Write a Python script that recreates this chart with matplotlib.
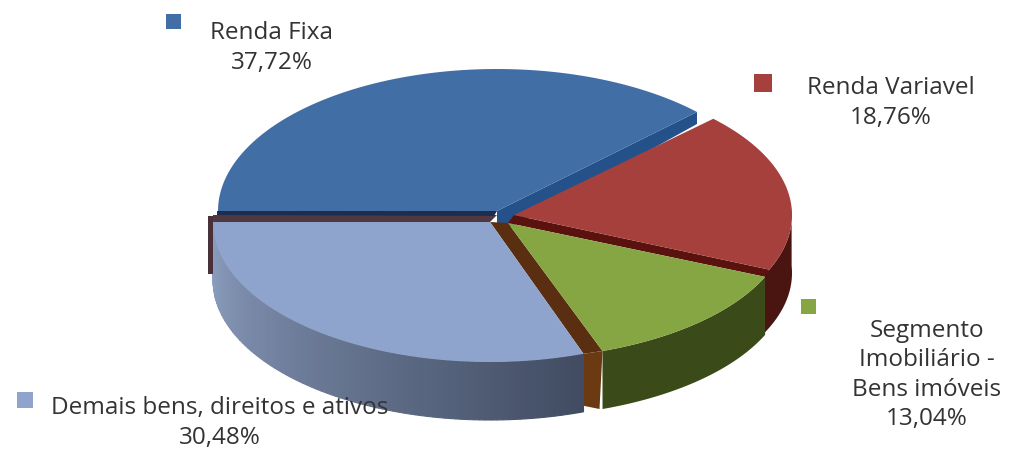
import numpy as np
import matplotlib
matplotlib.use('Agg')
import matplotlib.pyplot as plt
from matplotlib.patches import Polygon, Rectangle
from matplotlib.colors import to_rgb

# Values, clockwise from the left edge
labels = ['Renda Fixa\n37,72%', 'Renda Variavel\n18,76%',
          'Segmento\nImobiliário -\nBens imóveis\n13,04%',
          'Demais bens, direitos e ativos\n30,48%']
values = [37.72, 18.76, 13.04, 30.48]
top_colors = ['#426ea6', '#a5403d', '#86a644', '#8fa4cd']
side_colors = ['#24518a', '#4a1510', '#3a4a18', '#8396b8']

# Slice centre and radii in pixels, each slice is pulled out a bit
centers = [(497, 211), (514, 215), (508, 223), (490, 222)]
radii = [(279, 142), (278, 138), (280, 136), (277, 140)]
depth = 58

label_pos = [(272, 48), (891, 103), (927, 375), (220, 423)]
square_pos = [(166, 14, 15), (754, 74, 18), (801, 299, 15), (17, 392, 16)]

# Angles of the slice borders, the pie starts at 180 degrees and runs clockwise
edges = np.radians(180 - np.cumsum([0] + values) * 3.6)


def arc(i, a0, a1, n=80):
    t = np.linspace(a0, a1, n)
    cx, cy = centers[i]
    rx, ry = radii[i]
    return np.column_stack([cx + rx * np.cos(t), cy - ry * np.sin(t)])


def end(i, a):
    return arc(i, a, a, 1)[0]


def side(i, a0, a1, c0, c1=None, n=90):
    # outer wall, the gradient one is split into strips
    if c1 is None:
        p = arc(i, a0, a1)
        ax.add_patch(Polygon(np.vstack([p, p[::-1] + [0, depth]]), fc=c0, ec='none'))
        return
    t = np.linspace(a0, a1, n + 1)
    c0, c1 = np.array(to_rgb(c0)), np.array(to_rgb(c1))
    for k in range(n):
        p = arc(i, t[k], t[k + 1], 4)
        col = c0 + (c1 - c0) * k / (n - 1)
        ax.add_patch(Polygon(np.vstack([p, p[::-1] + [0, depth]]), fc=col, ec=col, lw=0.8))


def top(i):
    p = np.vstack([[centers[i]], arc(i, edges[i], edges[i + 1])])
    ax.add_patch(Polygon(p, fc=top_colors[i], ec='none'))


fig = plt.figure(figsize=(10.11, 4.5), dpi=100)
ax = fig.add_axes([0, 0, 1, 1])
ax.set_xlim(0, 1011)
ax.set_ylim(450, 0)
ax.axis('off')

# cut face of the blue slice on its right edge, goes under the others
c = np.array(centers[0], float)
e = end(0, edges[1])
ax.add_patch(Polygon([c, e, e + [0, 12], [506, 230], [497, 228]], fc=side_colors[0], ec='none'))

# red slice: wall (runs on a little under the green one), cut face, top
side(1, np.radians(3), edges[2] - 0.04, side_colors[1])
ax.add_patch(Polygon([centers[1], end(1, edges[2]), end(2, edges[2]), centers[2]],
                     fc='#5a120e', ec='none'))
top(1)

# green slice and the brown face next to the light blue slice
side(2, edges[2], edges[3], side_colors[2])
ax.add_patch(Polygon([centers[3], end(3, edges[3]), end(2, edges[3]), centers[2]],
                     fc='#5a2e10', ec='none'))
e = end(3, edges[3])
ax.add_patch(Polygon([e, end(2, edges[3]), end(2, edges[3]) + [-3, depth], e + [0, depth - 6]],
                     fc='#6b3a12', ec='none'))
top(2)

# light blue slice, its wall gets darker towards the front
side(3, np.radians(-180), edges[3], '#8ea0c2', '#414c62')
c = np.array(centers[3], float)
ax.add_patch(Polygon([[497, 215], c, [213, 222], [213, 215]], fc='#503840', ec='none'))
ax.add_patch(Rectangle((208, 216), 5, 58, fc='#4a3038', ec='none'))
top(3)

# dark band under the left edge of the blue slice
c = np.array(centers[0], float)
ax.add_patch(Polygon([c, [217, 211], [217, 215], c + [-3, 5]], fc='#1c2e50', ec='none'))
top(0)

for i in range(len(values)):
    x, y, s = square_pos[i]
    ax.add_patch(Rectangle((x, y), s, s, fc=top_colors[i], ec='none'))
    ax.text(label_pos[i][0], label_pos[i][1], labels[i], ha='center', va='center',
            fontsize=17.5, family='Open Sans', color='#333333', linespacing=1.28)

fig.savefig('out.png', dpi=100, facecolor='white')
